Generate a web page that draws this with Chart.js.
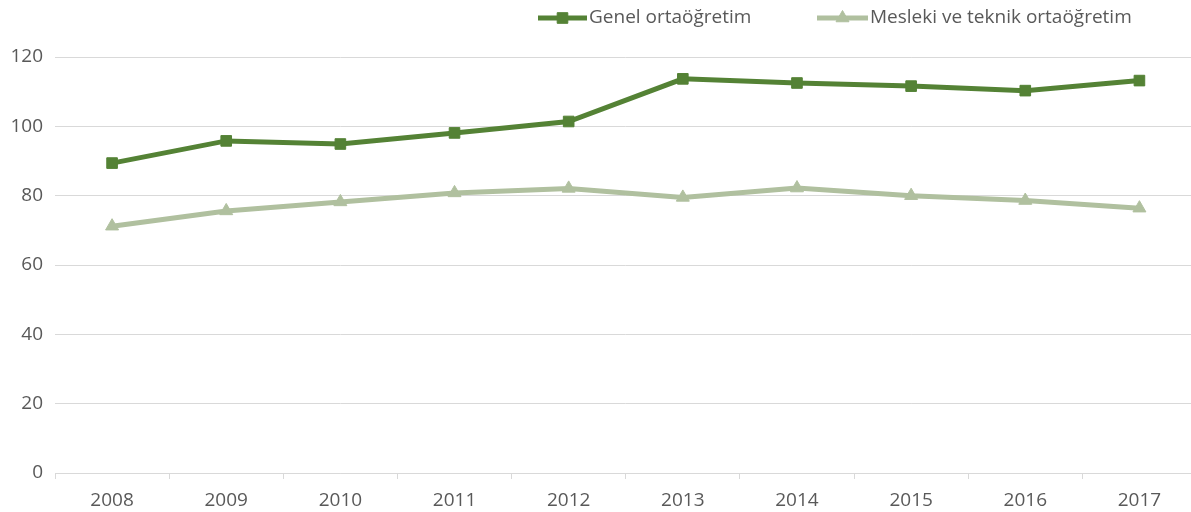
<!DOCTYPE html>
<html>
<head>
<meta charset="utf-8">
<script src="https://cdn.jsdelivr.net/npm/chart.js@4/dist/chart.umd.min.js"></script>
<style>
html,body{margin:0;padding:0;background:#fff;overflow:hidden;}
canvas{display:block;}
</style>
</head>
<body>
<canvas id="c" width="1205" height="512"></canvas>
<script>
const categories = ['2008','2009','2010','2011','2012','2013','2014','2015','2016','2017'];
const genel = [89.4, 95.8, 94.9, 98.1, 101.4, 113.7, 112.5, 111.6, 110.3, 113.2];
const mesleki = [71.2, 75.6, 78.2, 80.8, 82.1, 79.5, 82.2, 80.0, 78.6, 76.4];
const seriesNames = ['Genel ortaöğretim', 'Mesleki ve teknik ortaöğretim'];
const yTickValues = [0, 20, 40, 60, 80, 100, 120];

const DARK = '#548235';
const LIGHT = '#b0c09f';
const TXT = '#595959';
const GRID = '#d9d9d9';
const FONT = '"Open Sans", sans-serif';

const legendPlugin = {
  id: 'customLegend',
  afterDraw(chart) {
    const ctx = chart.ctx;
    const items = [
      {name: seriesNames[0], color: DARK, style: 'rect', x1: 538, x2: 587, tx: 589},
      {name: seriesNames[1], color: LIGHT, style: 'triangle', x1: 817, x2: 868, tx: 870}
    ];
    const y = 18;
    ctx.save();
    items.forEach(it => {
      ctx.strokeStyle = it.color;
      ctx.lineWidth = 5;
      ctx.lineCap = 'butt';
      ctx.beginPath();
      ctx.moveTo(it.x1, y);
      ctx.lineTo(it.x2, y);
      ctx.stroke();
      ctx.fillStyle = it.color;
      ctx.strokeStyle = it.color;
      ctx.lineWidth = 1;
      Chart.helpers.drawPoint(ctx, {pointStyle: it.style, radius: 7.5, borderWidth: 1}, (it.x1 + it.x2) / 2, y);
      ctx.fillStyle = TXT;
      ctx.font = '19px ' + FONT;
      ctx.textBaseline = 'middle';
      ctx.textAlign = 'left';
      ctx.fillText(it.name, it.tx, y);
    });
    ctx.restore();
  }
};

new Chart(document.getElementById('c'), {
  type: 'line',
  data: {
    labels: categories,
    datasets: [
      {
        label: seriesNames[0],
        data: genel,
        borderColor: DARK,
        backgroundColor: DARK,
        borderWidth: 5,
        pointStyle: 'rect',
        pointRadius: 7.5,
        pointHoverRadius: 7.5,
        pointBorderWidth: 1,
        pointBorderColor: DARK,
        pointBackgroundColor: DARK,
        tension: 0
      },
      {
        label: seriesNames[1],
        data: mesleki,
        borderColor: LIGHT,
        backgroundColor: LIGHT,
        borderWidth: 5,
        pointStyle: 'triangle',
        pointRadius: 7.5,
        pointHoverRadius: 7.5,
        pointBorderWidth: 1,
        pointBorderColor: LIGHT,
        pointBackgroundColor: LIGHT,
        tension: 0
      }
    ]
  },
  options: {
    responsive: false,
    animation: false,
    devicePixelRatio: 1,
    layout: {padding: {top: 57, right: 0, bottom: 0, left: 0}},
    plugins: {
      legend: {display: false},
      tooltip: {enabled: false}
    },
    scales: {
      x: {
        offset: true,
        grid: {display: true, drawOnChartArea: false, drawTicks: true, tickLength: 6, color: GRID, offset: true},
        border: {display: true, color: GRID, width: 1},
        ticks: {color: TXT, font: {family: FONT, size: 19}, padding: 10, maxRotation: 0, autoSkip: false},
        afterFit(scale) { scale.height = 39; }
      },
      y: {
        min: 0,
        max: 120,
        afterBuildTicks(scale) { scale.ticks = yTickValues.map(v => ({value: v})); },
        grid: {color: GRID, drawTicks: false, lineWidth: 1},
        border: {display: false},
        ticks: {color: TXT, font: {family: FONT, size: 19}, padding: 12},
        afterFit(scale) { scale.width = 55; }
      }
    }
  },
  plugins: [legendPlugin]
});
</script>
</body>
</html>
